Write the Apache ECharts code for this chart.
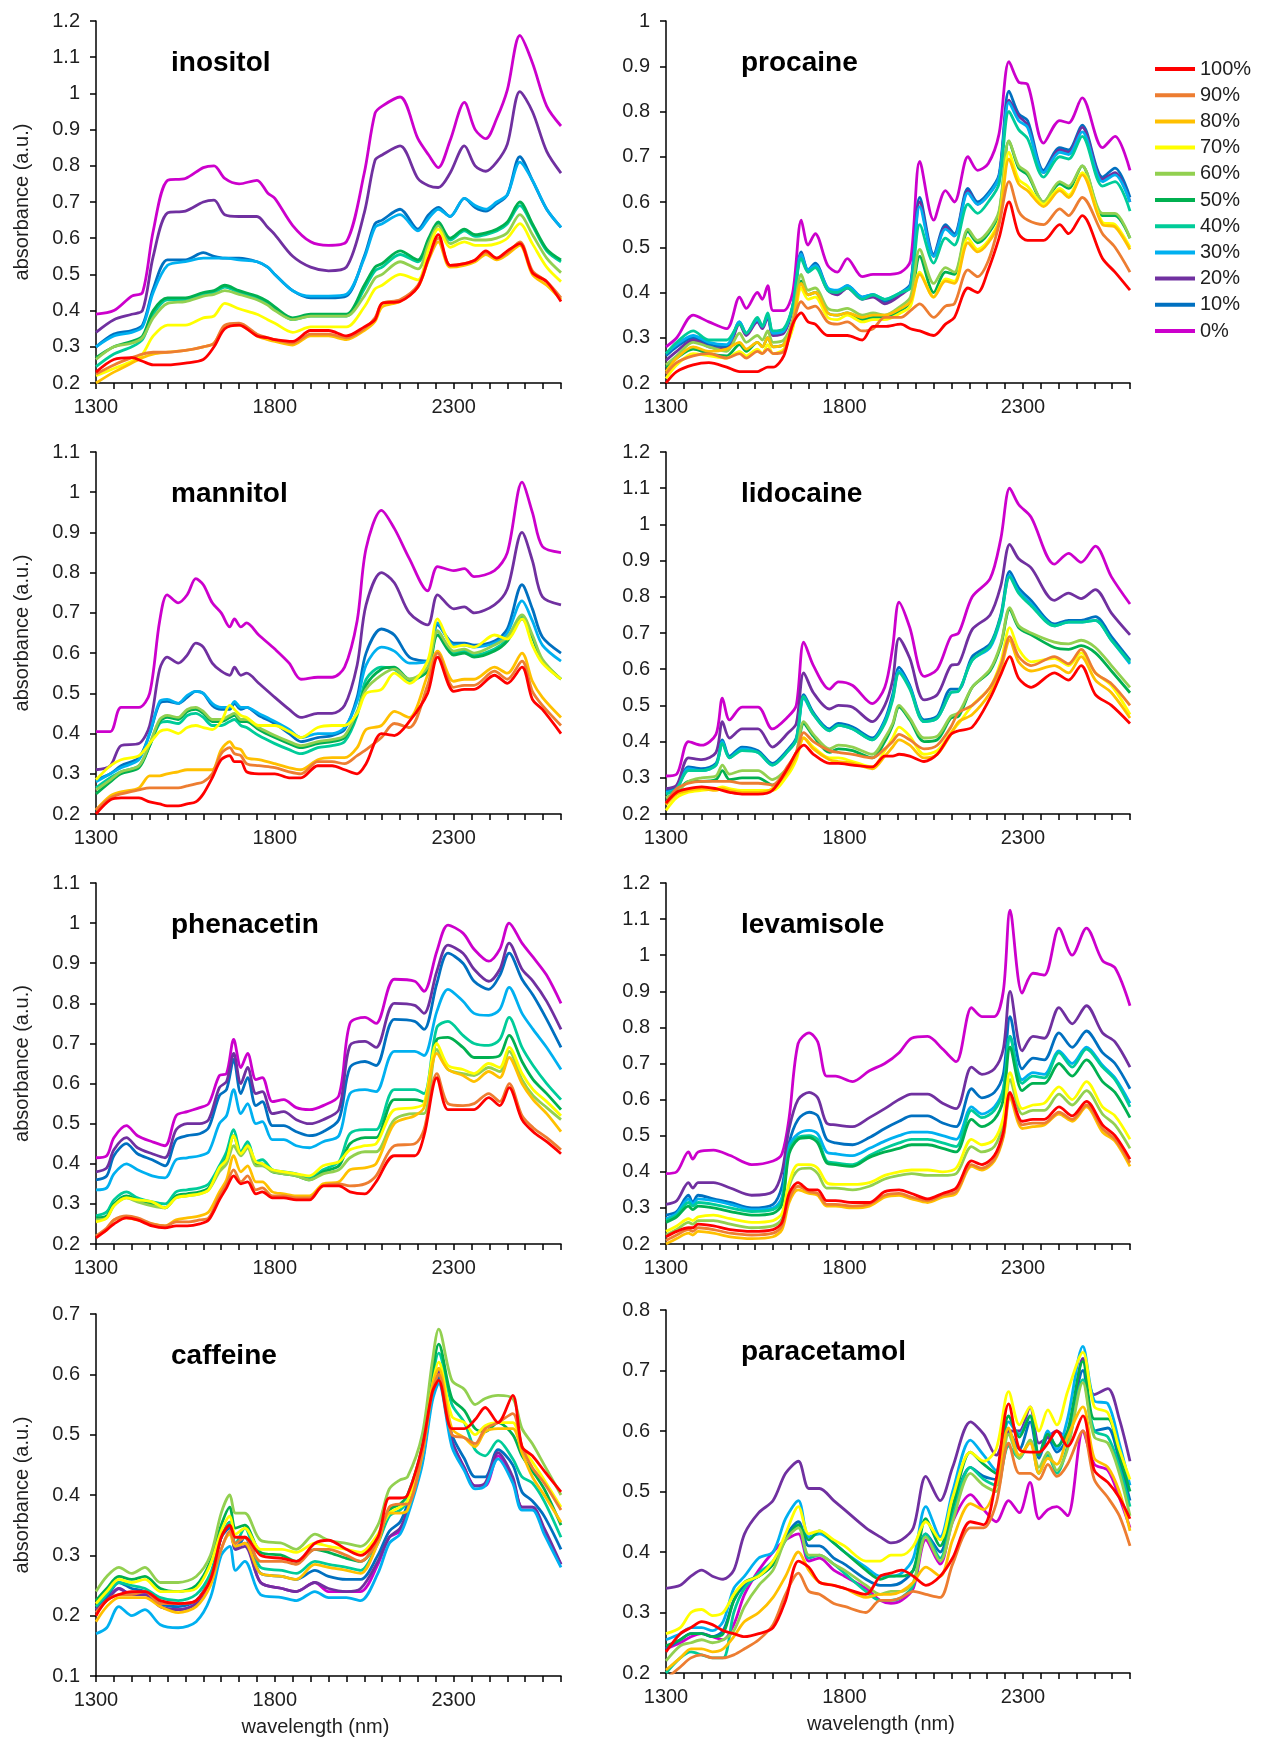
<!DOCTYPE html>
<html>
<head>
<meta charset="utf-8">
<script src="https://cdn.jsdelivr.net/npm/echarts@6/dist/echarts.min.js"></script>
<style>
html,body{margin:0;padding:0;background:#fff;}
#chart{width:1263px;height:1739px;}
</style>
</head>
<body>
<div id="chart"></div>
<script>
// ---------------- DATA ----------------
const levels = ['100%', '90%', '80%', '70%', '60%', '50%', '40%', '30%', '20%', '10%', '0%'];
const panelNames = ['inositol', 'procaine', 'mannitol', 'lidocaine', 'phenacetin', 'levamisole', 'caffeine', 'paracetamol'];
const xTickLabels = [1300, 1800, 2300];
const yRanges = [[0.2, 1.2], [0.2, 1.0], [0.2, 1.1], [0.2, 1.2], [0.2, 1.1], [0.2, 1.2], [0.1, 0.7], [0.2, 0.8]];

// inositol
const inositolWavelength = [1300,1350,1400,1430,1460,1500,1550,1600,1630,1660,1700,1750,1780,1800,1850,1900,1950,2000,2050,2080,2100,2150,2200,2230,2257,2290,2330,2360,2390,2420,2450,2485,2520,2560,2600];
const inositolAbsorbance = [
 [0.23,0.265,0.27,0.26,0.25,0.25,0.255,0.265,0.30,0.35,0.36,0.33,0.325,0.32,0.315,0.345,0.345,0.33,0.355,0.375,0.42,0.425,0.465,0.545,0.61,0.525,0.53,0.54,0.565,0.545,0.565,0.585,0.505,0.48,0.425],
 [0.225,0.25,0.27,0.28,0.285,0.285,0.29,0.30,0.31,0.36,0.365,0.335,0.325,0.32,0.31,0.335,0.335,0.325,0.35,0.38,0.42,0.43,0.47,0.545,0.60,0.525,0.53,0.54,0.56,0.545,0.56,0.59,0.51,0.48,0.435],
 [0.20,0.23,0.255,0.27,0.28,0.285,0.29,0.30,0.31,0.355,0.36,0.33,0.32,0.315,0.305,0.33,0.33,0.32,0.345,0.37,0.41,0.425,0.465,0.54,0.59,0.52,0.525,0.535,0.555,0.54,0.555,0.58,0.50,0.47,0.43],
 [0.22,0.24,0.26,0.28,0.33,0.36,0.36,0.38,0.385,0.42,0.405,0.39,0.375,0.365,0.34,0.355,0.355,0.355,0.41,0.46,0.47,0.50,0.485,0.57,0.625,0.575,0.59,0.58,0.58,0.585,0.60,0.64,0.585,0.52,0.48],
 [0.265,0.30,0.31,0.325,0.38,0.42,0.425,0.44,0.445,0.455,0.445,0.43,0.415,0.40,0.375,0.385,0.385,0.385,0.44,0.49,0.50,0.535,0.515,0.585,0.635,0.585,0.60,0.595,0.595,0.60,0.615,0.665,0.61,0.545,0.505],
 [0.27,0.30,0.315,0.33,0.40,0.435,0.435,0.45,0.455,0.47,0.455,0.44,0.425,0.41,0.38,0.39,0.39,0.39,0.47,0.52,0.53,0.565,0.54,0.60,0.645,0.60,0.625,0.61,0.615,0.625,0.645,0.70,0.64,0.57,0.54],
 [0.245,0.28,0.30,0.32,0.39,0.43,0.43,0.445,0.45,0.465,0.45,0.435,0.42,0.405,0.375,0.385,0.385,0.385,0.46,0.51,0.52,0.555,0.535,0.595,0.64,0.595,0.62,0.605,0.61,0.62,0.64,0.69,0.635,0.565,0.535],
 [0.30,0.33,0.34,0.355,0.45,0.525,0.535,0.545,0.545,0.545,0.54,0.535,0.52,0.50,0.455,0.44,0.44,0.445,0.545,0.63,0.64,0.665,0.62,0.655,0.68,0.66,0.71,0.69,0.68,0.70,0.72,0.81,0.76,0.68,0.63],
 [0.34,0.375,0.39,0.40,0.55,0.67,0.675,0.70,0.705,0.665,0.66,0.66,0.63,0.61,0.55,0.52,0.51,0.52,0.67,0.815,0.83,0.855,0.765,0.745,0.74,0.78,0.855,0.80,0.785,0.81,0.86,1.005,0.95,0.84,0.78],
 [0.30,0.335,0.345,0.36,0.46,0.54,0.54,0.56,0.55,0.545,0.545,0.535,0.52,0.50,0.455,0.435,0.435,0.44,0.55,0.64,0.65,0.68,0.625,0.665,0.685,0.66,0.71,0.685,0.675,0.695,0.72,0.825,0.76,0.68,0.63],
 [0.39,0.40,0.44,0.45,0.62,0.76,0.765,0.795,0.80,0.765,0.75,0.76,0.725,0.71,0.635,0.59,0.58,0.59,0.78,0.945,0.965,0.99,0.875,0.83,0.795,0.87,0.975,0.90,0.875,0.93,1.01,1.16,1.085,0.965,0.91]
];

// procaine
const procaineWavelength = [1300,1330,1376,1420,1470,1506,1525,1556,1570,1585,1600,1630,1655,1679,1698,1718,1753,1780,1808,1850,1880,1913,1958,1985,2011,2050,2083,2108,2146,2173,2203,2233,2261,2288,2313,2358,2403,2428,2466,2523,2558,2600];
const procaineAbsorbance = [
 [0.20,0.225,0.24,0.245,0.235,0.225,0.225,0.225,0.23,0.235,0.235,0.26,0.33,0.355,0.335,0.33,0.305,0.305,0.305,0.295,0.325,0.325,0.33,0.32,0.315,0.305,0.33,0.345,0.41,0.40,0.45,0.52,0.60,0.53,0.515,0.515,0.55,0.53,0.57,0.475,0.445,0.405],
 [0.22,0.245,0.26,0.265,0.255,0.265,0.255,0.27,0.265,0.275,0.265,0.27,0.33,0.38,0.365,0.37,0.335,0.33,0.335,0.315,0.32,0.345,0.345,0.36,0.375,0.345,0.37,0.375,0.45,0.435,0.47,0.55,0.645,0.58,0.56,0.55,0.585,0.57,0.61,0.53,0.50,0.445],
 [0.225,0.255,0.28,0.27,0.275,0.29,0.275,0.29,0.28,0.30,0.28,0.285,0.33,0.42,0.395,0.40,0.355,0.35,0.355,0.345,0.35,0.35,0.365,0.38,0.44,0.39,0.425,0.42,0.51,0.49,0.51,0.555,0.695,0.64,0.625,0.59,0.625,0.61,0.66,0.55,0.545,0.495],
 [0.21,0.24,0.265,0.26,0.255,0.27,0.26,0.275,0.265,0.285,0.265,0.275,0.32,0.41,0.385,0.39,0.345,0.34,0.35,0.335,0.34,0.34,0.355,0.37,0.445,0.39,0.43,0.425,0.52,0.495,0.515,0.56,0.71,0.65,0.635,0.595,0.63,0.615,0.665,0.555,0.55,0.50],
 [0.24,0.26,0.29,0.28,0.27,0.31,0.29,0.305,0.295,0.315,0.29,0.295,0.34,0.44,0.405,0.41,0.365,0.36,0.365,0.35,0.355,0.35,0.37,0.39,0.495,0.42,0.455,0.445,0.54,0.515,0.535,0.58,0.735,0.68,0.665,0.60,0.645,0.635,0.68,0.575,0.575,0.52],
 [0.235,0.255,0.275,0.265,0.26,0.285,0.27,0.29,0.28,0.30,0.28,0.285,0.33,0.425,0.395,0.40,0.355,0.35,0.355,0.34,0.345,0.345,0.36,0.38,0.48,0.40,0.445,0.44,0.535,0.51,0.53,0.575,0.735,0.675,0.66,0.60,0.64,0.63,0.68,0.57,0.57,0.52],
 [0.265,0.29,0.315,0.295,0.295,0.33,0.31,0.345,0.325,0.355,0.315,0.32,0.37,0.475,0.445,0.455,0.405,0.40,0.41,0.385,0.395,0.385,0.40,0.41,0.55,0.465,0.52,0.505,0.595,0.575,0.60,0.64,0.80,0.76,0.74,0.655,0.70,0.695,0.745,0.635,0.645,0.58],
 [0.265,0.285,0.305,0.29,0.285,0.335,0.31,0.34,0.325,0.35,0.31,0.315,0.37,0.485,0.45,0.46,0.41,0.405,0.415,0.39,0.395,0.385,0.40,0.415,0.59,0.48,0.54,0.525,0.62,0.595,0.615,0.655,0.82,0.78,0.765,0.665,0.71,0.705,0.755,0.645,0.66,0.60],
 [0.25,0.27,0.295,0.28,0.275,0.33,0.305,0.335,0.32,0.345,0.305,0.31,0.365,0.485,0.445,0.46,0.405,0.395,0.41,0.385,0.39,0.375,0.395,0.415,0.60,0.48,0.545,0.525,0.625,0.595,0.615,0.655,0.825,0.79,0.77,0.665,0.715,0.71,0.765,0.65,0.665,0.60],
 [0.26,0.28,0.30,0.285,0.28,0.335,0.31,0.34,0.325,0.35,0.31,0.315,0.37,0.49,0.45,0.465,0.41,0.40,0.415,0.39,0.395,0.38,0.40,0.42,0.61,0.485,0.55,0.53,0.63,0.60,0.62,0.66,0.845,0.795,0.78,0.67,0.72,0.715,0.77,0.655,0.675,0.61],
 [0.28,0.30,0.35,0.335,0.32,0.39,0.365,0.40,0.385,0.415,0.36,0.36,0.40,0.56,0.505,0.53,0.46,0.445,0.475,0.435,0.44,0.44,0.445,0.47,0.69,0.56,0.625,0.60,0.70,0.67,0.685,0.75,0.91,0.865,0.86,0.73,0.78,0.775,0.83,0.72,0.745,0.67]
];

// mannitol
const mannitolWavelength = [1300,1340,1370,1420,1450,1478,1499,1530,1555,1579,1600,1625,1650,1674,1687,1705,1721,1755,1800,1840,1873,1920,1960,1995,2030,2055,2098,2134,2176,2227,2255,2300,2330,2357,2414,2450,2491,2520,2548,2600];
const mannitolAbsorbance = [
 [0.20,0.235,0.24,0.24,0.23,0.225,0.22,0.22,0.225,0.23,0.25,0.29,0.335,0.345,0.33,0.33,0.305,0.30,0.30,0.29,0.29,0.32,0.32,0.31,0.30,0.325,0.40,0.395,0.43,0.50,0.59,0.505,0.51,0.51,0.545,0.525,0.565,0.485,0.46,0.40],
 [0.21,0.24,0.25,0.26,0.265,0.265,0.265,0.265,0.27,0.275,0.28,0.30,0.35,0.365,0.35,0.345,0.325,0.32,0.315,0.305,0.30,0.33,0.33,0.325,0.345,0.36,0.39,0.425,0.415,0.52,0.60,0.515,0.52,0.52,0.555,0.535,0.58,0.505,0.47,0.42],
 [0.21,0.245,0.255,0.265,0.295,0.295,0.30,0.305,0.31,0.31,0.31,0.31,0.36,0.38,0.365,0.36,0.34,0.335,0.325,0.315,0.31,0.335,0.34,0.34,0.365,0.41,0.42,0.455,0.44,0.545,0.605,0.53,0.535,0.535,0.565,0.55,0.60,0.53,0.49,0.44],
 [0.285,0.32,0.335,0.345,0.375,0.405,0.41,0.40,0.415,0.42,0.415,0.41,0.43,0.47,0.46,0.445,0.44,0.42,0.42,0.405,0.39,0.415,0.42,0.42,0.45,0.50,0.51,0.55,0.525,0.58,0.685,0.615,0.62,0.615,0.645,0.635,0.685,0.62,0.575,0.535],
 [0.26,0.285,0.305,0.32,0.375,0.435,0.445,0.44,0.46,0.465,0.455,0.435,0.435,0.445,0.45,0.435,0.435,0.415,0.395,0.38,0.37,0.38,0.385,0.395,0.455,0.51,0.545,0.56,0.535,0.565,0.655,0.605,0.61,0.60,0.62,0.64,0.695,0.645,0.585,0.535],
 [0.25,0.28,0.30,0.315,0.37,0.43,0.44,0.435,0.455,0.46,0.45,0.43,0.43,0.44,0.445,0.43,0.43,0.41,0.39,0.375,0.365,0.375,0.38,0.39,0.45,0.52,0.56,0.565,0.535,0.555,0.645,0.595,0.60,0.59,0.605,0.63,0.685,0.64,0.58,0.535],
 [0.265,0.29,0.305,0.32,0.37,0.425,0.43,0.425,0.445,0.45,0.44,0.42,0.42,0.43,0.435,0.42,0.415,0.395,0.375,0.36,0.35,0.365,0.37,0.38,0.445,0.535,0.565,0.56,0.53,0.56,0.655,0.60,0.605,0.595,0.61,0.635,0.69,0.64,0.58,0.535],
 [0.28,0.30,0.315,0.335,0.40,0.48,0.485,0.475,0.495,0.505,0.50,0.475,0.465,0.465,0.48,0.465,0.465,0.45,0.43,0.41,0.39,0.40,0.40,0.415,0.48,0.57,0.615,0.605,0.575,0.58,0.675,0.62,0.62,0.615,0.625,0.65,0.73,0.68,0.62,0.58],
 [0.31,0.32,0.37,0.375,0.42,0.56,0.59,0.575,0.595,0.625,0.615,0.575,0.555,0.545,0.565,0.545,0.55,0.525,0.49,0.46,0.44,0.45,0.45,0.47,0.57,0.72,0.80,0.775,0.70,0.67,0.745,0.71,0.715,0.70,0.72,0.76,0.90,0.83,0.74,0.72],
 [0.285,0.30,0.32,0.34,0.40,0.475,0.48,0.475,0.49,0.505,0.50,0.47,0.46,0.46,0.475,0.46,0.465,0.445,0.425,0.40,0.38,0.39,0.395,0.41,0.49,0.60,0.66,0.645,0.59,0.58,0.67,0.625,0.625,0.62,0.63,0.66,0.77,0.71,0.64,0.60],
 [0.405,0.405,0.465,0.465,0.50,0.68,0.745,0.725,0.745,0.785,0.77,0.725,0.70,0.665,0.685,0.665,0.675,0.645,0.61,0.575,0.535,0.54,0.54,0.565,0.68,0.86,0.955,0.91,0.835,0.755,0.815,0.805,0.81,0.79,0.805,0.85,1.025,0.95,0.865,0.85]
];

// lidocaine
const lidocaineWavelength = [1300,1330,1363,1400,1440,1458,1478,1513,1558,1598,1643,1665,1686,1713,1758,1783,1823,1878,1913,1935,1953,1983,2023,2060,2098,2120,2158,2208,2238,2263,2288,2323,2388,2428,2463,2503,2548,2600];
const lidocaineAbsorbance = [
 [0.23,0.26,0.27,0.275,0.27,0.265,0.26,0.255,0.255,0.265,0.33,0.37,0.39,0.365,0.34,0.34,0.335,0.33,0.36,0.36,0.365,0.36,0.345,0.365,0.42,0.43,0.44,0.52,0.585,0.635,0.575,0.55,0.59,0.57,0.61,0.53,0.50,0.45],
 [0.23,0.27,0.285,0.29,0.29,0.29,0.29,0.285,0.285,0.28,0.335,0.37,0.425,0.40,0.375,0.37,0.365,0.355,0.38,0.40,0.42,0.405,0.38,0.39,0.44,0.48,0.50,0.55,0.61,0.69,0.635,0.61,0.635,0.615,0.655,0.59,0.56,0.50],
 [0.225,0.255,0.265,0.27,0.265,0.27,0.265,0.26,0.26,0.27,0.32,0.36,0.41,0.38,0.35,0.345,0.34,0.325,0.36,0.385,0.405,0.39,0.355,0.365,0.42,0.455,0.475,0.535,0.60,0.68,0.62,0.595,0.61,0.59,0.635,0.57,0.535,0.465],
 [0.21,0.245,0.26,0.265,0.27,0.275,0.27,0.265,0.265,0.265,0.31,0.35,0.41,0.385,0.355,0.355,0.345,0.33,0.375,0.41,0.44,0.415,0.365,0.375,0.425,0.45,0.50,0.55,0.62,0.715,0.655,0.62,0.63,0.61,0.645,0.59,0.555,0.475],
 [0.245,0.26,0.29,0.30,0.305,0.335,0.31,0.32,0.32,0.295,0.33,0.37,0.455,0.42,0.38,0.39,0.385,0.365,0.41,0.45,0.50,0.465,0.41,0.415,0.47,0.48,0.55,0.60,0.67,0.77,0.72,0.70,0.675,0.67,0.68,0.66,0.61,0.55],
 [0.245,0.26,0.29,0.29,0.295,0.32,0.295,0.30,0.30,0.28,0.32,0.36,0.45,0.415,0.37,0.38,0.375,0.355,0.40,0.445,0.495,0.46,0.40,0.405,0.465,0.47,0.55,0.595,0.665,0.765,0.715,0.695,0.66,0.655,0.665,0.645,0.595,0.535],
 [0.255,0.27,0.32,0.32,0.335,0.395,0.355,0.375,0.37,0.335,0.375,0.405,0.525,0.475,0.43,0.445,0.435,0.405,0.45,0.515,0.59,0.545,0.455,0.465,0.535,0.54,0.625,0.665,0.745,0.855,0.81,0.775,0.72,0.73,0.73,0.735,0.68,0.62],
 [0.26,0.27,0.325,0.32,0.335,0.40,0.355,0.38,0.37,0.335,0.375,0.405,0.52,0.475,0.43,0.445,0.435,0.405,0.455,0.52,0.595,0.55,0.455,0.465,0.535,0.54,0.625,0.66,0.74,0.86,0.815,0.78,0.72,0.73,0.73,0.735,0.68,0.615],
 [0.27,0.28,0.355,0.35,0.37,0.455,0.41,0.435,0.435,0.385,0.425,0.45,0.59,0.535,0.49,0.50,0.495,0.455,0.50,0.57,0.685,0.63,0.515,0.53,0.61,0.615,0.71,0.75,0.83,0.945,0.905,0.88,0.79,0.81,0.795,0.82,0.755,0.695],
 [0.265,0.275,0.33,0.325,0.34,0.405,0.36,0.385,0.375,0.34,0.38,0.41,0.53,0.48,0.435,0.45,0.44,0.41,0.46,0.53,0.605,0.555,0.46,0.47,0.545,0.545,0.635,0.67,0.75,0.87,0.825,0.79,0.725,0.735,0.735,0.745,0.69,0.625],
 [0.305,0.31,0.40,0.39,0.42,0.52,0.46,0.495,0.495,0.435,0.47,0.50,0.675,0.61,0.545,0.565,0.555,0.505,0.55,0.66,0.785,0.715,0.58,0.60,0.69,0.70,0.80,0.85,0.96,1.10,1.055,1.02,0.89,0.92,0.895,0.94,0.855,0.78]
];

// phenacetin
const phenacetinWavelength = [1300,1330,1350,1385,1416,1457,1493,1524,1555,1590,1615,1645,1665,1685,1705,1724,1747,1765,1793,1825,1860,1897,1935,1979,2010,2052,2083,2134,2191,2217,2253,2284,2326,2357,2398,2429,2455,2491,2522,2560,2600];
const phenacetinAbsorbance = [
 [0.215,0.235,0.25,0.265,0.26,0.245,0.24,0.245,0.245,0.25,0.26,0.31,0.34,0.37,0.35,0.355,0.325,0.33,0.315,0.315,0.31,0.31,0.345,0.345,0.33,0.325,0.355,0.42,0.42,0.47,0.615,0.535,0.535,0.535,0.565,0.545,0.59,0.51,0.48,0.455,0.425],
 [0.22,0.24,0.26,0.27,0.265,0.25,0.245,0.255,0.255,0.26,0.265,0.32,0.35,0.385,0.355,0.37,0.335,0.34,0.32,0.32,0.315,0.315,0.345,0.35,0.345,0.35,0.37,0.445,0.45,0.485,0.625,0.55,0.545,0.55,0.575,0.555,0.60,0.52,0.49,0.465,0.435],
 [0.22,0.235,0.26,0.265,0.26,0.25,0.245,0.26,0.265,0.27,0.28,0.33,0.36,0.42,0.38,0.395,0.355,0.355,0.33,0.325,0.32,0.32,0.35,0.355,0.385,0.39,0.40,0.50,0.52,0.54,0.675,0.635,0.62,0.605,0.63,0.615,0.665,0.60,0.56,0.525,0.48],
 [0.255,0.265,0.295,0.315,0.31,0.305,0.29,0.315,0.32,0.325,0.335,0.39,0.41,0.47,0.425,0.445,0.405,0.40,0.385,0.38,0.375,0.37,0.395,0.405,0.435,0.445,0.45,0.535,0.54,0.55,0.70,0.645,0.635,0.625,0.65,0.64,0.69,0.625,0.585,0.555,0.52],
 [0.26,0.265,0.295,0.315,0.305,0.295,0.29,0.315,0.32,0.325,0.335,0.38,0.40,0.445,0.42,0.44,0.395,0.395,0.38,0.375,0.37,0.36,0.375,0.385,0.415,0.43,0.43,0.51,0.525,0.525,0.685,0.635,0.625,0.62,0.64,0.63,0.68,0.61,0.57,0.54,0.51],
 [0.265,0.27,0.30,0.32,0.31,0.30,0.29,0.32,0.325,0.33,0.34,0.385,0.415,0.47,0.425,0.445,0.40,0.40,0.38,0.375,0.37,0.36,0.38,0.395,0.45,0.465,0.465,0.56,0.56,0.555,0.71,0.715,0.69,0.665,0.665,0.67,0.72,0.655,0.61,0.575,0.535],
 [0.27,0.28,0.31,0.33,0.315,0.305,0.30,0.33,0.335,0.34,0.35,0.395,0.43,0.485,0.43,0.455,0.405,0.41,0.385,0.38,0.375,0.365,0.385,0.405,0.475,0.485,0.485,0.585,0.585,0.575,0.74,0.755,0.72,0.70,0.695,0.71,0.765,0.69,0.645,0.60,0.56],
 [0.335,0.34,0.375,0.40,0.385,0.37,0.365,0.41,0.415,0.42,0.43,0.50,0.52,0.585,0.525,0.55,0.50,0.505,0.46,0.46,0.445,0.44,0.455,0.47,0.575,0.585,0.58,0.68,0.68,0.67,0.78,0.835,0.805,0.775,0.77,0.785,0.84,0.775,0.735,0.69,0.635],
 [0.38,0.39,0.435,0.465,0.44,0.425,0.415,0.485,0.50,0.50,0.51,0.59,0.605,0.675,0.60,0.64,0.575,0.58,0.525,0.53,0.51,0.50,0.51,0.535,0.695,0.705,0.69,0.80,0.795,0.775,0.88,0.945,0.925,0.885,0.855,0.885,0.95,0.885,0.855,0.805,0.735],
 [0.36,0.37,0.42,0.45,0.425,0.41,0.395,0.46,0.47,0.475,0.49,0.57,0.585,0.66,0.575,0.615,0.545,0.555,0.495,0.495,0.48,0.47,0.48,0.51,0.64,0.655,0.645,0.76,0.755,0.735,0.85,0.925,0.90,0.855,0.835,0.87,0.925,0.86,0.82,0.76,0.69],
 [0.415,0.42,0.465,0.495,0.47,0.455,0.445,0.52,0.53,0.54,0.55,0.62,0.625,0.71,0.64,0.675,0.61,0.615,0.555,0.56,0.54,0.535,0.545,0.57,0.75,0.765,0.75,0.86,0.855,0.83,0.93,0.995,0.975,0.935,0.905,0.935,1.00,0.95,0.915,0.87,0.80]
];

// levamisole
const levamisoleWavelength = [1300,1330,1363,1375,1390,1433,1480,1540,1600,1625,1645,1670,1701,1725,1750,1775,1823,1870,1913,1953,1988,2033,2075,2113,2156,2185,2220,2245,2264,2298,2328,2360,2401,2438,2478,2523,2558,2600];
const levamisoleAbsorbance = [
 [0.22,0.235,0.245,0.245,0.255,0.25,0.24,0.235,0.24,0.26,0.34,0.37,0.35,0.35,0.32,0.32,0.315,0.315,0.345,0.35,0.34,0.325,0.34,0.355,0.43,0.42,0.445,0.51,0.62,0.54,0.545,0.545,0.58,0.555,0.595,0.53,0.50,0.435],
 [0.21,0.225,0.24,0.235,0.245,0.24,0.23,0.225,0.23,0.25,0.325,0.36,0.345,0.34,0.31,0.31,0.305,0.31,0.335,0.34,0.33,0.32,0.335,0.345,0.42,0.41,0.435,0.50,0.615,0.53,0.535,0.535,0.565,0.545,0.585,0.52,0.49,0.425],
 [0.20,0.215,0.23,0.225,0.235,0.23,0.22,0.215,0.22,0.24,0.315,0.35,0.34,0.335,0.305,0.305,0.30,0.305,0.33,0.335,0.325,0.315,0.33,0.34,0.415,0.405,0.43,0.495,0.605,0.52,0.525,0.53,0.56,0.54,0.58,0.51,0.485,0.415],
 [0.235,0.25,0.27,0.265,0.275,0.28,0.27,0.26,0.265,0.285,0.37,0.42,0.42,0.41,0.37,0.365,0.365,0.37,0.39,0.40,0.405,0.405,0.40,0.41,0.49,0.475,0.49,0.55,0.675,0.575,0.585,0.59,0.635,0.60,0.65,0.58,0.555,0.49],
 [0.225,0.24,0.26,0.255,0.265,0.265,0.255,0.245,0.25,0.27,0.36,0.405,0.41,0.395,0.355,0.355,0.35,0.36,0.38,0.39,0.395,0.39,0.39,0.395,0.47,0.455,0.47,0.535,0.655,0.56,0.57,0.57,0.615,0.585,0.625,0.56,0.53,0.465],
 [0.26,0.275,0.305,0.295,0.305,0.30,0.29,0.28,0.285,0.31,0.45,0.49,0.495,0.48,0.425,0.42,0.415,0.44,0.455,0.465,0.475,0.475,0.465,0.455,0.545,0.525,0.545,0.60,0.745,0.625,0.645,0.645,0.70,0.665,0.71,0.65,0.62,0.55],
 [0.265,0.28,0.315,0.305,0.315,0.31,0.30,0.29,0.295,0.32,0.46,0.495,0.50,0.49,0.43,0.425,0.42,0.445,0.465,0.48,0.49,0.49,0.48,0.47,0.57,0.55,0.57,0.625,0.775,0.645,0.665,0.66,0.73,0.69,0.74,0.69,0.655,0.58],
 [0.27,0.285,0.325,0.31,0.325,0.32,0.31,0.295,0.30,0.33,0.47,0.505,0.515,0.505,0.455,0.45,0.445,0.465,0.485,0.50,0.51,0.51,0.50,0.49,0.58,0.56,0.58,0.63,0.775,0.655,0.675,0.67,0.735,0.70,0.745,0.695,0.66,0.59],
 [0.31,0.32,0.37,0.355,0.37,0.37,0.355,0.335,0.345,0.40,0.52,0.60,0.62,0.605,0.535,0.53,0.525,0.55,0.575,0.60,0.615,0.615,0.59,0.575,0.69,0.67,0.685,0.74,0.90,0.735,0.775,0.77,0.855,0.81,0.86,0.785,0.76,0.69],
 [0.28,0.29,0.335,0.315,0.335,0.325,0.315,0.30,0.31,0.36,0.48,0.545,0.565,0.555,0.49,0.48,0.475,0.495,0.52,0.54,0.555,0.555,0.535,0.525,0.63,0.605,0.62,0.67,0.83,0.685,0.715,0.71,0.785,0.745,0.79,0.73,0.70,0.63],
 [0.395,0.40,0.455,0.435,0.455,0.46,0.445,0.42,0.43,0.45,0.55,0.755,0.785,0.76,0.665,0.665,0.65,0.68,0.70,0.73,0.77,0.775,0.74,0.705,0.855,0.83,0.83,0.90,1.125,0.895,0.95,0.945,1.075,1.00,1.075,0.985,0.965,0.86]
];

// caffeine
const caffeineWavelength = [1300,1330,1364,1400,1437,1480,1530,1580,1620,1650,1674,1690,1716,1760,1820,1860,1912,1950,2000,2040,2088,2120,2150,2171,2212,2240,2258,2295,2330,2360,2388,2424,2465,2491,2520,2553,2600];
const caffeineAbsorbance = [
 [0.20,0.225,0.235,0.24,0.24,0.225,0.22,0.225,0.26,0.33,0.35,0.33,0.33,0.30,0.295,0.29,0.32,0.325,0.31,0.30,0.33,0.395,0.395,0.40,0.48,0.57,0.59,0.51,0.51,0.525,0.545,0.52,0.565,0.48,0.465,0.44,0.405],
 [0.205,0.225,0.235,0.235,0.24,0.22,0.22,0.225,0.26,0.31,0.34,0.32,0.33,0.29,0.29,0.285,0.31,0.31,0.30,0.29,0.325,0.38,0.385,0.385,0.47,0.57,0.60,0.50,0.495,0.485,0.51,0.52,0.535,0.48,0.445,0.42,0.375],
 [0.19,0.215,0.23,0.23,0.23,0.215,0.205,0.215,0.25,0.31,0.335,0.315,0.32,0.27,0.265,0.26,0.285,0.28,0.275,0.27,0.32,0.37,0.37,0.375,0.465,0.58,0.61,0.51,0.495,0.48,0.505,0.51,0.51,0.47,0.43,0.40,0.355],
 [0.22,0.24,0.26,0.255,0.26,0.24,0.24,0.245,0.285,0.34,0.365,0.335,0.345,0.31,0.31,0.305,0.32,0.315,0.31,0.305,0.335,0.37,0.38,0.39,0.47,0.58,0.62,0.53,0.52,0.50,0.515,0.52,0.52,0.48,0.455,0.425,0.38],
 [0.24,0.265,0.28,0.27,0.28,0.255,0.255,0.265,0.30,0.37,0.40,0.37,0.37,0.325,0.32,0.31,0.335,0.325,0.32,0.315,0.35,0.41,0.425,0.43,0.50,0.62,0.675,0.59,0.575,0.55,0.56,0.565,0.56,0.51,0.485,0.45,0.40],
 [0.225,0.245,0.265,0.26,0.265,0.245,0.24,0.25,0.29,0.35,0.38,0.345,0.35,0.305,0.30,0.29,0.31,0.305,0.295,0.29,0.325,0.375,0.385,0.40,0.48,0.60,0.65,0.56,0.54,0.51,0.505,0.52,0.50,0.465,0.44,0.41,0.35],
 [0.215,0.235,0.255,0.25,0.245,0.23,0.225,0.235,0.27,0.33,0.355,0.32,0.345,0.28,0.275,0.27,0.29,0.285,0.28,0.275,0.32,0.365,0.375,0.39,0.47,0.59,0.635,0.55,0.52,0.475,0.465,0.49,0.46,0.43,0.42,0.39,0.33],
 [0.17,0.18,0.215,0.20,0.21,0.185,0.18,0.19,0.23,0.30,0.315,0.275,0.29,0.235,0.23,0.225,0.24,0.23,0.23,0.225,0.27,0.32,0.335,0.365,0.45,0.555,0.585,0.48,0.44,0.41,0.415,0.46,0.42,0.375,0.375,0.335,0.28],
 [0.21,0.225,0.245,0.235,0.235,0.215,0.21,0.22,0.265,0.33,0.35,0.31,0.315,0.255,0.245,0.24,0.255,0.245,0.24,0.245,0.29,0.33,0.345,0.375,0.455,0.57,0.605,0.49,0.445,0.415,0.42,0.47,0.43,0.38,0.38,0.345,0.285],
 [0.21,0.23,0.255,0.245,0.24,0.22,0.215,0.225,0.265,0.33,0.345,0.31,0.33,0.27,0.265,0.26,0.275,0.265,0.26,0.26,0.30,0.34,0.355,0.385,0.465,0.57,0.595,0.50,0.46,0.43,0.43,0.475,0.45,0.405,0.39,0.365,0.31],
 [0.205,0.225,0.245,0.235,0.235,0.215,0.21,0.22,0.26,0.33,0.355,0.315,0.32,0.255,0.245,0.24,0.255,0.24,0.24,0.24,0.285,0.33,0.34,0.37,0.455,0.575,0.61,0.49,0.445,0.415,0.415,0.465,0.425,0.38,0.38,0.34,0.285]
];

// paracetamol
const paracetamolWavelength = [1300,1340,1370,1400,1430,1460,1490,1520,1560,1600,1635,1671,1700,1730,1770,1800,1860,1900,1930,1960,1993,2028,2068,2103,2153,2190,2225,2260,2290,2320,2345,2370,2395,2425,2468,2500,2538,2570,2600];
const paracetamolAbsorbance = [
 [0.235,0.265,0.275,0.285,0.28,0.27,0.265,0.26,0.265,0.275,0.32,0.385,0.375,0.35,0.345,0.34,0.33,0.36,0.365,0.37,0.36,0.345,0.36,0.39,0.45,0.445,0.52,0.645,0.57,0.565,0.565,0.58,0.60,0.575,0.625,0.535,0.515,0.49,0.455],
 [0.19,0.21,0.225,0.23,0.225,0.225,0.23,0.24,0.255,0.28,0.33,0.365,0.335,0.33,0.315,0.31,0.30,0.32,0.32,0.325,0.335,0.33,0.325,0.38,0.44,0.44,0.48,0.58,0.53,0.53,0.52,0.545,0.525,0.545,0.60,0.52,0.49,0.46,0.41],
 [0.205,0.225,0.24,0.24,0.235,0.24,0.26,0.285,0.30,0.325,0.36,0.40,0.37,0.35,0.345,0.34,0.325,0.33,0.33,0.335,0.35,0.375,0.36,0.42,0.48,0.47,0.51,0.605,0.56,0.58,0.53,0.555,0.545,0.59,0.64,0.555,0.54,0.50,0.435],
 [0.265,0.275,0.30,0.305,0.295,0.30,0.33,0.35,0.36,0.385,0.43,0.475,0.43,0.435,0.42,0.41,0.385,0.385,0.395,0.395,0.41,0.45,0.42,0.49,0.565,0.55,0.57,0.665,0.61,0.64,0.60,0.635,0.61,0.665,0.73,0.64,0.63,0.57,0.52],
 [0.22,0.245,0.25,0.255,0.25,0.255,0.27,0.31,0.345,0.37,0.42,0.44,0.395,0.395,0.38,0.37,0.345,0.33,0.335,0.335,0.35,0.425,0.385,0.45,0.53,0.51,0.50,0.595,0.555,0.585,0.54,0.565,0.535,0.57,0.68,0.59,0.58,0.53,0.46],
 [0.245,0.255,0.265,0.265,0.26,0.265,0.32,0.35,0.36,0.38,0.42,0.445,0.42,0.435,0.415,0.40,0.37,0.355,0.36,0.36,0.37,0.455,0.41,0.475,0.565,0.545,0.53,0.625,0.59,0.625,0.56,0.595,0.575,0.60,0.715,0.62,0.62,0.56,0.50],
 [0.20,0.225,0.235,0.23,0.225,0.225,0.30,0.34,0.365,0.385,0.42,0.445,0.39,0.395,0.38,0.365,0.335,0.32,0.32,0.325,0.345,0.43,0.39,0.46,0.54,0.52,0.51,0.575,0.555,0.585,0.53,0.56,0.53,0.575,0.685,0.60,0.59,0.54,0.475],
 [0.255,0.265,0.275,0.275,0.27,0.285,0.34,0.36,0.39,0.40,0.455,0.485,0.425,0.43,0.415,0.40,0.375,0.36,0.36,0.365,0.39,0.475,0.425,0.50,0.585,0.56,0.535,0.615,0.595,0.625,0.56,0.60,0.57,0.62,0.74,0.65,0.645,0.58,0.51],
 [0.34,0.345,0.36,0.37,0.36,0.355,0.37,0.43,0.465,0.485,0.53,0.55,0.505,0.505,0.485,0.47,0.44,0.425,0.415,0.42,0.44,0.525,0.485,0.54,0.615,0.595,0.56,0.60,0.60,0.64,0.58,0.59,0.60,0.585,0.72,0.66,0.67,0.62,0.55],
 [0.24,0.255,0.265,0.265,0.26,0.27,0.32,0.345,0.36,0.38,0.425,0.45,0.41,0.41,0.39,0.38,0.355,0.345,0.345,0.35,0.37,0.43,0.40,0.47,0.54,0.525,0.52,0.60,0.57,0.615,0.555,0.59,0.565,0.59,0.70,0.60,0.605,0.55,0.485],
 [0.24,0.25,0.26,0.265,0.26,0.255,0.28,0.33,0.37,0.40,0.42,0.43,0.385,0.39,0.37,0.36,0.34,0.32,0.315,0.32,0.34,0.42,0.38,0.45,0.495,0.47,0.45,0.485,0.465,0.515,0.455,0.47,0.475,0.46,0.60,0.545,0.535,0.49,0.44]
];

// ---------------- STYLE / LAYOUT ----------------
const FONT = '"Liberation Sans", Arial, Helvetica, sans-serif';
const seriesColors = ['#FF0000', '#ED7D31', '#FFC000', '#FFFF00', '#92D050', '#00B050', '#00CC99', '#00B0F0', '#7030A0', '#0070C0', '#CC00CC'];
const layout = [
  {left: 96, top: 21, width: 465, height: 362},
  {left: 666, top: 21, width: 464, height: 362},
  {left: 96, top: 452, width: 465, height: 362},
  {left: 666, top: 452, width: 464, height: 362},
  {left: 96, top: 883, width: 465, height: 361},
  {left: 666, top: 883, width: 464, height: 361},
  {left: 96, top: 1314, width: 465, height: 362},
  {left: 666, top: 1310, width: 464, height: 363}
];
const titleOffset = {dx: 75, dy: 28};

const wavelengths = [inositolWavelength, procaineWavelength, mannitolWavelength, lidocaineWavelength, phenacetinWavelength, levamisoleWavelength, caffeineWavelength, paracetamolWavelength];
const absorbances = [inositolAbsorbance, procaineAbsorbance, mannitolAbsorbance, lidocaineAbsorbance, phenacetinAbsorbance, levamisoleAbsorbance, caffeineAbsorbance, paracetamolAbsorbance];

const chart = echarts.init(document.getElementById('chart'), null, {renderer: 'canvas'});

const titles = panelNames.map((name, i) => ({
  text: name,
  left: layout[i].left + titleOffset.dx,
  top: layout[i].top + titleOffset.dy,
  padding: 0,
  textStyle: {fontSize: 28, fontWeight: 'bold', color: '#000', fontFamily: FONT}
}));

const grids = layout.map(g => ({left: g.left, top: g.top, width: g.width, height: g.height, containLabel: false}));

const xAxes = panelNames.map((n, i) => ({
  gridIndex: i,
  type: 'value',
  min: 1300, max: 2600, interval: 50,
  axisLine: {show: true, onZero: false, lineStyle: {color: '#000', width: 1.5}},
  axisTick: {show: true, inside: false, length: 6, lineStyle: {color: '#000', width: 1.5}},
  axisLabel: {
    formatter: v => (xTickLabels.indexOf(Math.round(v)) >= 0 ? String(Math.round(v)) : ''),
    fontSize: 20, color: '#1f1f1f', margin: 14, fontFamily: FONT
  },
  splitLine: {show: false},
  name: i >= 6 ? 'wavelength (nm)' : '',
  nameLocation: 'middle',
  nameGap: 41,
  nameTextStyle: {fontSize: 20, color: '#1f1f1f', fontFamily: FONT, padding: i % 2 === 0 ? [0, 26, 0, 0] : [0, 34, 0, 0]}
}));

const yAxes = panelNames.map((n, i) => ({
  gridIndex: i,
  type: 'value',
  min: yRanges[i][0], max: yRanges[i][1], interval: 0.1,
  axisLine: {show: true, lineStyle: {color: '#000', width: 1.5}},
  axisTick: {show: true, inside: false, length: 6, lineStyle: {color: '#000', width: 1.5}},
  axisLabel: {
    formatter: v => String(parseFloat(v.toFixed(2))),
    fontSize: 20, color: '#1f1f1f', margin: 16, fontFamily: FONT
  },
  splitLine: {show: false},
  name: i % 2 === 0 ? 'absorbance (a.u.)' : '',
  nameLocation: 'middle',
  nameGap: 64,
  nameTextStyle: {fontSize: 20, color: '#1f1f1f', fontFamily: FONT}
}));

const series = [];
panelNames.forEach((name, i) => {
  for (let k = levels.length - 1; k >= 0; k--) {
    const wl = wavelengths[i];
    const ab = absorbances[i][k];
    series.push({
      type: 'line',
      name: levels[k],
      xAxisIndex: i,
      yAxisIndex: i,
      data: wl.map((x, j) => [x, ab[j]]),
      showSymbol: false,
      symbol: 'none',
      smooth: 0.3,
      lineStyle: {width: 2.8, color: seriesColors[k]},
      itemStyle: {color: seriesColors[k]},
      emphasis: {disabled: true},
      silent: true
    });
  }
});

const option = {
  animation: false,
  backgroundColor: '#ffffff',
  textStyle: {fontFamily: FONT},
  title: titles,
  legend: {
    orient: 'vertical',
    left: 1155,
    top: 58,
    padding: 0,
    data: levels,
    icon: 'rect',
    itemWidth: 40,
    itemHeight: 4,
    itemGap: 4.2,
    itemTextGap: 11,
    selectedMode: false,
    textStyle: {fontSize: 20, color: '#1f1f1f', lineHeight: 22, fontFamily: FONT}
  },
  grid: grids,
  xAxis: xAxes,
  yAxis: yAxes,
  series: series
};

chart.setOption(option);
</script>
</body>
</html>
